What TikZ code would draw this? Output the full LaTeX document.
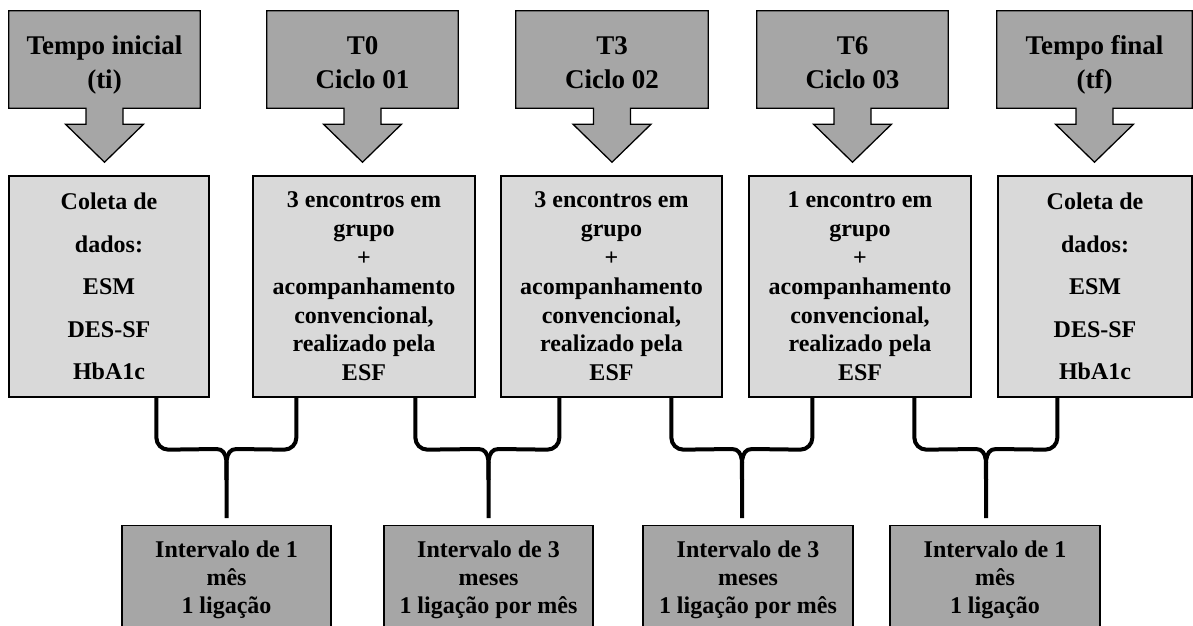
\documentclass[tikz,border=0pt]{standalone}
\usepackage{fontspec}
\setmainfont{Liberation Serif}
\usetikzlibrary{calc}
\definecolor{darkbox}{HTML}{A6A6A6}
\definecolor{lightbox}{HTML}{D9D9D9}
\tikzset{
  topshape/.style={minimum width=#1, minimum height=97pt, inner sep=0pt},
  toptext/.style={inner sep=0pt, align=center, font=\fontsize{27}{34}\selectfont\bfseries},
  callout/.style={draw=black, line width=1.3pt, fill=darkbox, line join=miter},
  midbox/.style={draw=black, line width=1.3pt, fill=lightbox, minimum height=221pt,
    minimum width=#1, inner sep=0pt, align=center, font=\fontsize{24}{28.8}\selectfont\bfseries},
  collbox/.style={midbox=#1, font=\fontsize{24}{42.5}\selectfont\bfseries},
  intbox/.style={draw=black, line width=1.3pt, fill=darkbox, anchor=north, minimum width=#1,
    inner xsep=0pt, inner ysep=15pt, align=center, font=\fontsize{24}{28}\selectfont\bfseries},
  bracecon/.style={line width=4pt, line cap=butt, line join=round}
}
\newcommand{\calloutshape}[1]{%
  \draw[callout] (#1.north west) -- (#1.north east) -- (#1.south east)
    -- ($(#1.south)+(18.5,0)$) -- ($(#1.south)+(18.5,16)$) -- ($(#1.south)+(39,16)$)
    -- ($(#1.south)+(0,54)$) -- ($(#1.south)+(-39,16)$) -- ($(#1.south)+(-18.5,16)$)
    -- ($(#1.south)+(-18.5,0)$) -- (#1.south west) -- cycle;}
\newcommand{\bracelink}[6]{%
  \coordinate (bl) at ($(#1.south west)+(#2,0)$);
  \coordinate (br) at ($(#3.south west)+(#4,0)$);
  \coordinate (bs) at ($(#5.north)+(#6,-7)$);
  \draw[bracecon] (bl) -- ++(0,40) to[out=-90,in=180] ++(12,12)
    -- ($(bs)+(-10,-69)$) to[out=0,in=90] ($(bs)+(0,-38)$) -- (bs);
  \draw[bracecon] (br) -- ++(0,40) to[out=-90,in=0] ++(-12,12)
    -- ($(bs)+(10,-69)$) to[out=180,in=90] ($(bs)+(0,-38)$);}
\begin{document}
\begin{tikzpicture}[x=1pt,y=-1pt]
\useasboundingbox (0,0) rectangle (1193,625);
\clip (0,0) rectangle (1193,625);
% top callouts
\node[topshape=191pt] (t1) at (104.5,59.5) {};
\node[topshape=191pt] (t2) at (362.5,59.5) {};
\node[topshape=192pt] (t3) at (612,59.5) {};
\node[topshape=191pt] (t4) at (852.5,59.5) {};
\node[topshape=195pt] (t5) at (1094.5,59.5) {};
\calloutshape{t1}\calloutshape{t2}\calloutshape{t3}\calloutshape{t4}\calloutshape{t5}
\node[toptext] (t1txt) at (104.5,64.5) {\rule{0pt}{20pt}Tempo inicial\\(ti)\rule[-7pt]{0pt}{7pt}};
\node[toptext] (t2txt) at (362.5,64.5) {\rule{0pt}{20pt}T0\\Ciclo 01\rule[-7pt]{0pt}{7pt}};
\node[toptext] (t3txt) at (612,64.5) {\rule{0pt}{20pt}T3\\Ciclo 02\rule[-7pt]{0pt}{7pt}};
\node[toptext] (t4txt) at (852.5,64.5) {\rule{0pt}{20pt}T6\\Ciclo 03\rule[-7pt]{0pt}{7pt}};
\node[toptext] (t5txt) at (1094.5,64.5) {\rule{0pt}{20pt}Tempo final\\(tf)\rule[-7pt]{0pt}{7pt}};
% middle boxes
\node[collbox=200pt] (m1) at (109,286.5) {Coleta de\\dados:\\ESM\\DES-SF\\HbA1c};
\node[midbox=222pt] (m2) at (364,286.5) {3 encontros em\\grupo\\+\\acompanhamento\\convencional,\\realizado pela\\ESF};
\node[midbox=221pt] (m3) at (611.5,286.5) {3 encontros em\\grupo\\+\\acompanhamento\\convencional,\\realizado pela\\ESF};
\node[midbox=222pt] (m4) at (860,286.5) {1 encontro em\\grupo\\+\\acompanhamento\\convencional,\\realizado pela\\ESF};
\node[collbox=194pt] (m5) at (1095,286.5) {Coleta de\\dados:\\ESM\\DES-SF\\HbA1c};
% interval boxes
\node[intbox=209pt] (i1) at (226.5,525) {Intervalo de 1\\mês\\1 ligação};
\node[intbox=209pt] (i2) at (488.5,525) {Intervalo de 3\\meses\\1 ligação por mês};
\node[intbox=210pt] (i3) at (748,525) {Intervalo de 3\\meses\\1 ligação por mês};
\node[intbox=210pt] (i4) at (995,525) {Intervalo de 1\\mês\\1 ligação};
% brace connectors
\bracelink{m1}{148}{m2}{44}{i1}{0}
\bracelink{m2}{163}{m3}{59}{i2}{0}
\bracelink{m3}{171}{m4}{64}{i3}{-6}
\bracelink{m4}{166}{m5}{60}{i4}{-9}
\end{tikzpicture}
\end{document}
